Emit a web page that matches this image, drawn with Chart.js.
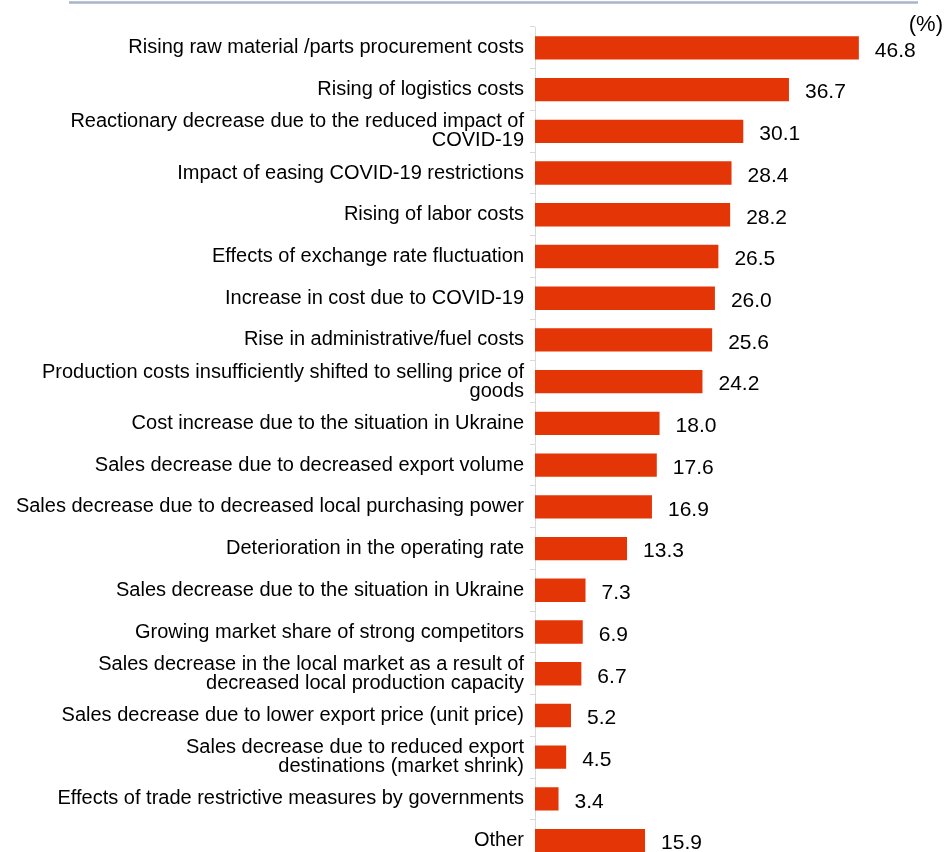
<!DOCTYPE html>
<html>
<head>
<meta charset="utf-8">
<script src="https://cdn.jsdelivr.net/npm/chart.js@4/dist/chart.umd.min.js"></script>
<style>
  html, body { margin: 0; padding: 0; background: #ffffff; overflow: hidden; }
  #chart { display: block; }
</style>
</head>
<body>
<canvas id="chart" width="952" height="877"></canvas>
<script>
// Reasons behind the change in operating profit forecast (%)
const categories = [
  "Rising raw material /parts procurement costs",
  "Rising of logistics costs",
  ["Reactionary decrease due to the reduced impact of", "COVID-19"],
  "Impact of easing COVID-19 restrictions",
  "Rising of labor costs",
  "Effects of exchange rate fluctuation",
  "Increase in cost due to COVID-19",
  "Rise in administrative/fuel costs",
  ["Production costs insufficiently shifted to selling price of", "goods"],
  "Cost increase due to the situation in Ukraine",
  "Sales decrease due to decreased export volume",
  "Sales decrease due to decreased local purchasing power",
  "Deterioration in the operating rate",
  "Sales decrease due to the situation in Ukraine",
  "Growing market share of strong competitors",
  ["Sales decrease in the local market as a result of", "decreased local production capacity"],
  "Sales decrease due to lower export price (unit price)",
  ["Sales decrease due to reduced export", "destinations (market shrink)"],
  "Effects of trade restrictive measures by governments",
  "Other"
];
const shares = [46.8, 36.7, 30.1, 28.4, 28.2, 26.5, 26.0, 25.6, 24.2, 18.0,
                17.6, 16.9, 13.3, 7.3, 6.9, 6.7, 5.2, 4.5, 3.4, 15.9];
const unitLabel = "(%)";

const FONT = "'Liberation Sans', Arial, sans-serif";

// Thin rule across the top of the figure and the unit note
const framePlugin = {
  id: 'frame',
  beforeDraw(chart) {
    const ctx = chart.ctx;
    ctx.save();
    ctx.strokeStyle = '#a9b4c7';
    ctx.lineWidth = 2.5;
    ctx.beginPath();
    ctx.moveTo(69, 2.5);
    ctx.lineTo(918, 2.5);
    ctx.stroke();
    ctx.fillStyle = '#000000';
    ctx.font = '22px ' + FONT;
    ctx.textAlign = 'right';
    ctx.textBaseline = 'middle';
    ctx.fillText(unitLabel, 943, 25);
    ctx.restore();
  }
};

// Value written just past the end of each bar
const valuePlugin = {
  id: 'values',
  afterDatasetsDraw(chart) {
    const ctx = chart.ctx;
    const meta = chart.getDatasetMeta(0);
    ctx.save();
    ctx.fillStyle = '#000000';
    ctx.font = '21px ' + FONT;
    ctx.textAlign = 'left';
    ctx.textBaseline = 'middle';
    meta.data.forEach((bar, i) => {
      ctx.fillText(shares[i].toFixed(1), bar.x + 16, bar.y + 3);
    });
    ctx.restore();
  }
};

new Chart(document.getElementById('chart'), {
  type: 'bar',
  data: {
    labels: categories,
    datasets: [{
      data: shares,
      backgroundColor: '#e33505',
      borderWidth: 0,
      barPercentage: 0.56,
      categoryPercentage: 1.0
    }]
  },
  options: {
    indexAxis: 'y',
    responsive: false,
    maintainAspectRatio: false,
    devicePixelRatio: 1,
    animation: false,
    layout: { padding: { top: 27, right: 71, bottom: 1, left: 0 } },
    plugins: {
      legend: { display: false },
      tooltip: { enabled: false }
    },
    scales: {
      x: {
        display: false,
        min: 0,
        max: 50
      },
      y: {
        afterFit(scale) { scale.width = 535; },
        grid: {
          display: true,
          drawOnChartArea: false,
          drawTicks: true,
          tickLength: 5,
          color: '#d9d9d9',
          offset: true
        },
        border: { display: true, color: '#d9d9d9', width: 1 },
        ticks: {
          padding: 6,
          color: '#000000',
          autoSkip: false,
          font: { family: FONT, size: 20, lineHeight: 0.95 }
        }
      }
    }
  },
  plugins: [framePlugin, valuePlugin]
});
</script>
</body>
</html>
